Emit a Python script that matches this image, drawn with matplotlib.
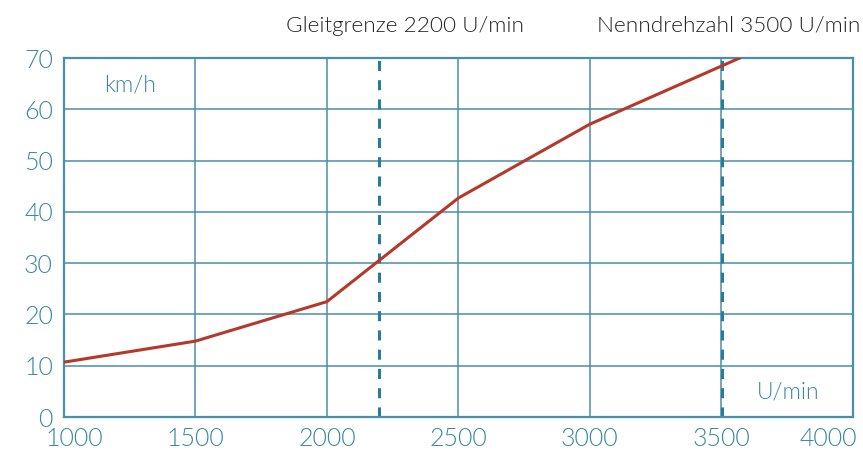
import matplotlib
matplotlib.use("Agg")
import matplotlib.pyplot as plt
import matplotlib.transforms as mtransforms

# Data
drehzahl = [1000, 1500, 2000, 2500, 3000, 3570]
geschw   = [10.7, 14.8, 22.5, 42.7, 57.1, 70.0]

gleitgrenze  = 2200
nenndrehzahl = 3500

xticks = [1000, 1500, 2000, 2500, 3000, 3500, 4000]
yticks = [0, 10, 20, 30, 40, 50, 60, 70]

# Colors
grid_col = "#4a8fa8"
tick_col = "#3a86a5"
dash_col = "#2a7a9a"
red      = "#b5382b"
FW = 300

plt.rcParams['font.family'] = ['Lato', 'DejaVu Sans']

fig = plt.figure(figsize=(8.63, 4.5), dpi=100)
ax = fig.add_axes([0.0742, 0.0733, 0.9138, 0.7977])

ax.set_xlim(1000, 4000)
ax.set_ylim(0, 70)
ax.set_xticks(xticks)
ax.set_yticks(yticks)
ax.grid(True, color=grid_col, lw=1.1)
ax.set_axisbelow(True)
for s in ax.spines.values():
    s.set_color(grid_col)
    s.set_linewidth(1.6)
ax.tick_params(length=0, colors=tick_col, labelsize=18)
ax.tick_params(axis='y', pad=8)
ax.tick_params(axis='x', pad=7)
for lab in ax.get_xticklabels() + ax.get_yticklabels():
    lab.set_fontweight(FW)

# keep the outer x labels inside the figure
xlabs = ax.get_xticklabels()
xlabs[0].set_transform(xlabs[0].get_transform() +
                       mtransforms.ScaledTranslation(10 / 100, 0, fig.dpi_scale_trans))
xlabs[-1].set_transform(xlabs[-1].get_transform() +
                        mtransforms.ScaledTranslation(-24 / 100, 0, fig.dpi_scale_trans))

# Vertical dashed lines
ax.axvline(gleitgrenze, color=dash_col, lw=2.2, dashes=(3.3, 3.0), zorder=2)
ax.axvline(nenndrehzahl + 4, color=dash_col, lw=2.2, dashes=(3.3, 3.0), zorder=2)

ax.plot(drehzahl, geschw, color=red, lw=2.2, zorder=3, clip_on=True)

# Labels inside
ax.text(1251, 64.7, "km/h", color=tick_col, fontsize=16.5, fontweight=FW,
        ha='center', va='center')
ax.text(3755, 4.9, "U/min", color=tick_col, fontsize=16.5, fontweight=FW,
        ha='center', va='center')

trans = mtransforms.blended_transform_factory(ax.transData, ax.transAxes)
ax.text(2297, 1.09, "Gleitgrenze 2200 U/min", transform=trans, color="#222222",
        fontsize=16.2, fontweight=FW, ha='center', va='center')
ax.text(3528, 1.09, "Nenndrehzahl 3500 U/min", transform=trans, color="#222222",
        fontsize=16.2, fontweight=FW, ha='center', va='center')

fig.savefig("out.png", dpi=100)
